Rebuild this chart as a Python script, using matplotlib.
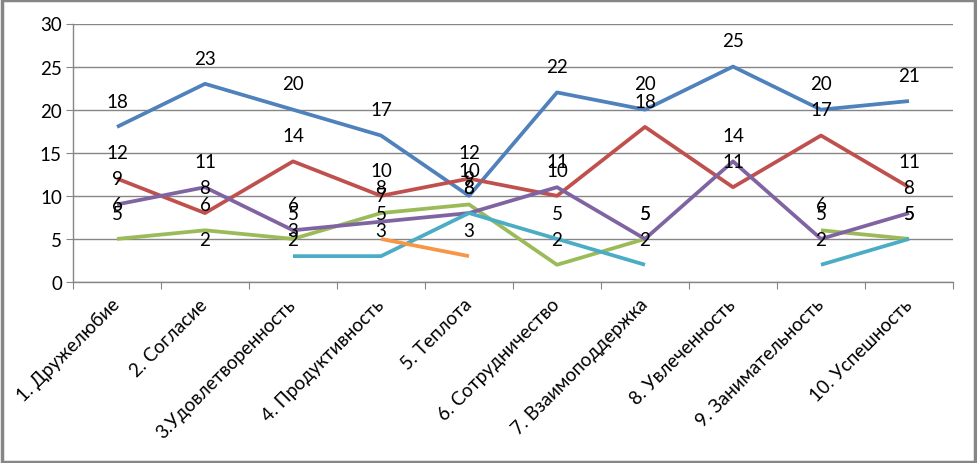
import matplotlib
matplotlib.use("Agg")
import matplotlib.pyplot as plt
from matplotlib.patches import Rectangle
import numpy as np

plt.rcParams["font.family"] = ["Lato", "DejaVu Sans"]

nan = np.nan
categories = ["1. Дружелюбие", "2. Согласие", "3.Удовлетворенность", "4. Продуктивность",
              "5. Теплота", "6. Сотрудничество", "7. Взаимоподдержка", "8. Увлеченность",
              "9. Занимательность", "10. Успешность"]

s_blue = [18, 23, 20, 17, 10, 22, 20, 25, 20, 21]
s_red = [12, 8, 14, 10, 12, 10, 18, 11, 17, 11]
s_green = [5, 6, 5, 8, 9, 2, 5, nan, 6, 5]
s_purple = [9, 11, 6, 7, 8, 11, 5, 14, 5, 8]
s_teal = [nan, nan, 3, 3, 8, 5, 2, nan, 2, 5]
s_orange = [nan, nan, nan, 5, 3, nan, nan, nan, nan, nan]
# series shown only by its labels (no line in the picture)
s_hidden = [6, 2, 2, nan, nan, nan, nan, nan, nan, nan]

series = [
    (s_blue, "#4F81BD"),
    (s_red, "#C0504D"),
    (s_green, "#9BBB59"),
    (s_purple, "#8064A2"),
    (s_teal, "#4BACC6"),
    (s_orange, "#F79646"),
]

fig = plt.figure(figsize=(9.77, 4.64), dpi=100)
ax = fig.add_axes([73 / 977, 1 - 283 / 464, 880 / 977, 258.5 / 464])

x = np.arange(1, len(categories) + 1)
grid_c = "#868686"


def add_labels(vals):
    for xi, v in zip(x, vals):
        if np.isnan(v):
            continue
        ax.annotate(f"{v:g}", (xi, v), xytext=(0, 18.5), textcoords="offset points",
                    ha="center", va="center", fontsize=13.5, color="black", zorder=5)


for vals, color in series:
    ax.plot(x, vals, color=color, lw=2.7, solid_capstyle="butt", zorder=3)
    add_labels(vals)
add_labels(s_hidden)

ax.set_xlim(0.5, len(categories) + 0.5)
ax.set_ylim(0, 30)
ax.set_yticks(range(0, 31, 5))
ax.yaxis.grid(True, color=grid_c, lw=1)
ax.set_axisbelow(True)

ax.set_xticks(np.arange(0.5, len(categories) + 1, 1))
ax.set_xticklabels([])
ax.set_xticks(x, minor=True)
ax.set_xticklabels(categories, minor=True, rotation=45, ha="right", va="center",
                   rotation_mode="anchor", fontsize=13.5)
ax.tick_params(axis="x", which="minor", length=0, pad=14)
ax.tick_params(axis="x", which="major", length=5, color=grid_c)
ax.tick_params(axis="y", length=5, color=grid_c, labelsize=13.5, pad=3)

for side in ["top", "right"]:
    ax.spines[side].set_visible(False)
for side in ["left", "bottom"]:
    ax.spines[side].set_color(grid_c)
    ax.spines[side].set_linewidth(1)

fig.patches.append(Rectangle((0.002, 0.003), 0.996, 0.994, transform=fig.transFigure,
                             fill=False, edgecolor="#868686", lw=2.5))

fig.savefig("out.png", dpi=100)
plt.close(fig)
